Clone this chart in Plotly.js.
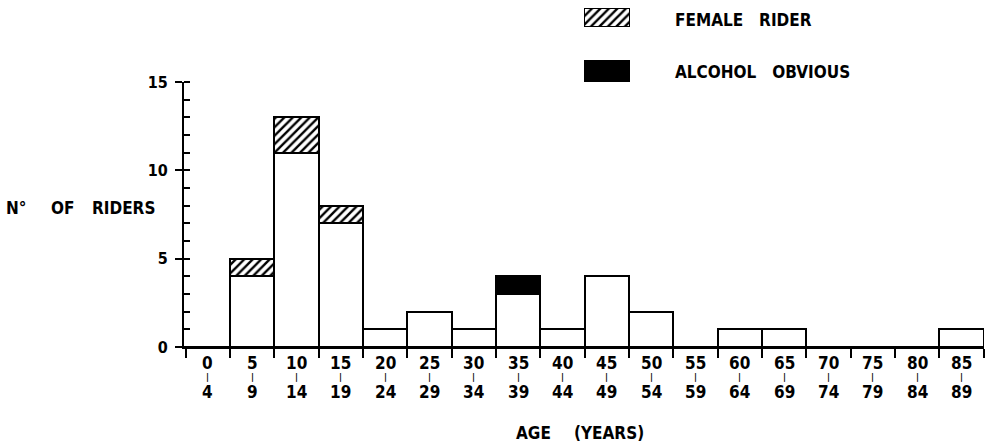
<!DOCTYPE html>
<html>
<head>
<meta charset="utf-8">
<script src="https://cdn.plot.ly/plotly-3.0.1.min.js"></script>
<style>html,body{margin:0;padding:0;background:#fff;}#chart{width:990px;height:446px;}</style>
</head>
<body>
<div id="chart"></div>
<script>
// ---- data ----
const ageStarts = [0,5,10,15,20,25,30,35,40,45,50,55,60,65,70,75,80,85];
const ageEnds   = [4,9,14,19,24,29,34,39,44,49,54,59,64,69,74,79,84,89];
const otherRiders    = [0,4,11,7,1,2,1,3,1,4,2,0,1,1,0,0,0,1];
const femaleRiders   = [0,1,2,1,0,0,0,0,0,0,0,0,0,0,0,0,0,0];
const alcoholObvious = [0,0,0,0,0,0,0,1,0,0,0,0,0,0,0,0,0,0];
const yTickVals = [0,5,10,15];
const legendLabels = ['FEMALE&nbsp;&nbsp;&nbsp;RIDER', 'ALCOHOL&nbsp;&nbsp;&nbsp;OBVIOUS'];

// ---- derived ----
const binWidth = 5;
const centers = ageStarts.map(s => s + binWidth/2);
const boundaries = ageStarts.concat([ageStarts[ageStarts.length-1] + binWidth]);
const nz = a => a.map(v => v === 0 ? null : v);

const FONT = 'Liberation Sans Narrow, DejaVu Sans Condensed, Arial Narrow, sans-serif';
const W = 990, H = 446;
const px = x => x / W;
const py = y => 1 - y / H;

const outline = {color:'#000', width:2};
const hatch = {shape:'/', fgcolor:'#000', bgcolor:'#fff', size:6, solidity:0.4};
const traces = [
  {type:'bar', x:centers, y:otherRiders, width:binWidth, marker:{color:'#fff', line:outline}, xaxis:'x', yaxis:'y', hoverinfo:'skip'},
  {type:'bar', x:centers, y:nz(femaleRiders), width:binWidth,
   marker:{color:'#fff', line:outline, pattern:hatch}, xaxis:'x', yaxis:'y', hoverinfo:'skip'},
  {type:'bar', x:centers, y:nz(alcoholObvious), width:binWidth, marker:{color:'#000', line:outline}, xaxis:'x', yaxis:'y', hoverinfo:'skip'},
  // legend swatches
  {type:'bar', x:[0], y:[1], width:1,
   marker:{color:'#fff', line:{color:'#000', width:1.5}, pattern:hatch}, xaxis:'x3', yaxis:'y3', hoverinfo:'skip'},
  {type:'bar', x:[0], y:[1], width:1, marker:{color:'#000', line:{color:'#000', width:1}}, xaxis:'x4', yaxis:'y4', hoverinfo:'skip'}
];

const annotations = [];
const labelFont = {family:FONT, size:17, color:'#000', weight:'bold'};
const ann = o => Object.assign({showarrow:false, xanchor:'center', yanchor:'middle'}, o);
centers.forEach((c, i) => {
  annotations.push(ann({xref:'x', yref:'paper', x:c, y:py(363), text:String(ageStarts[i]), font:labelFont}));
  annotations.push(ann({xref:'x', yref:'paper', x:c, y:py(377), text:'|', font:{family:FONT, size:9, color:'#000', weight:'bold'}}));
  annotations.push(ann({xref:'x', yref:'paper', x:c, y:py(392), text:String(ageEnds[i]), font:labelFont}));
});
const titleFont = {family:FONT, size:17, color:'#000', weight:'bold'};
annotations.push(ann({xref:'paper', yref:'paper', x:px(533), y:py(433), text:'AGE', font:titleFont}));
annotations.push(ann({xref:'paper', yref:'paper', x:px(609), y:py(433), text:'(YEARS)', font:titleFont}));
annotations.push(ann({xref:'paper', yref:'paper', x:px(16), y:py(208), text:'N°', font:titleFont}));
annotations.push(ann({xref:'paper', yref:'paper', x:px(62), y:py(208), text:'OF', font:titleFont}));
annotations.push(ann({xref:'paper', yref:'paper', x:px(123), y:py(208), text:'RIDERS', font:titleFont}));
annotations.push(ann({xref:'paper', yref:'paper', x:px(673), y:py(20), text:legendLabels[0], font:titleFont, xanchor:'left'}));
annotations.push(ann({xref:'paper', yref:'paper', x:px(673), y:py(72), text:legendLabels[1], font:titleFont, xanchor:'left'}));

const hidden = {visible:false, fixedrange:true};
const layout = {
  width:W, height:H,
  margin:{l:0, r:0, t:0, b:0, pad:0},
  paper_bgcolor:'#fff', plot_bgcolor:'rgba(0,0,0,0)',
  barmode:'stack', bargap:0, showlegend:false,
  font:{family:FONT, color:'#000'},
  xaxis:{domain:[px(184), px(984)], range:[-0.2, 90.05], showgrid:false, zeroline:false,
         showline:true, linecolor:'#000', linewidth:2,
         tickmode:'array', tickvals:boundaries, ticks:'outside', ticklen:9, tickwidth:2, tickcolor:'#000',
         showticklabels:false, anchor:'y'},
  yaxis:{domain:[py(347), py(82)], range:[0, 15], showgrid:false, zeroline:false,
         showline:true, linecolor:'#000', linewidth:2,
         tickmode:'array', tickvals:yTickVals, ticks:'outside', ticklen:7, tickwidth:2, tickcolor:'#000',
         ticklabelstandoff:4,
         minor:{dtick:1, ticks:'inside', ticklen:6, tickwidth:2, tickcolor:'#000', showgrid:false},
         tickfont:{family:FONT, size:16, color:'#000', weight:'bold'}, anchor:'x'},
  xaxis3:Object.assign({domain:[px(584), px(630)], range:[-0.5,0.5], anchor:'y3'}, hidden),
  yaxis3:Object.assign({domain:[py(27), py(8)], range:[0,1], anchor:'x3'}, hidden),
  xaxis4:Object.assign({domain:[px(584), px(630)], range:[-0.5,0.5], anchor:'y4'}, hidden),
  yaxis4:Object.assign({domain:[py(82), py(60)], range:[0,1], anchor:'x4'}, hidden),
  annotations:annotations
};

Plotly.newPlot('chart', traces, layout, {staticPlot:true, displayModeBar:false});
</script>
</body>
</html>
